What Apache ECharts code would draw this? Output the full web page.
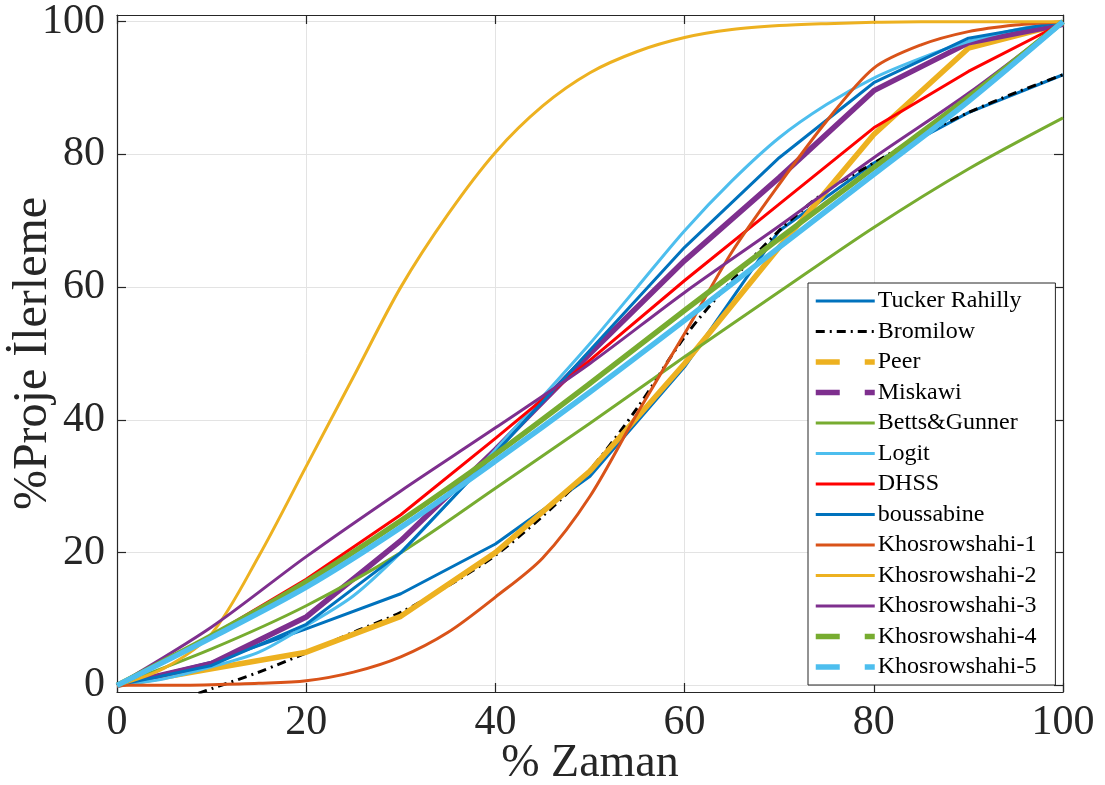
<!DOCTYPE html>
<html><head><meta charset="utf-8">
<script src="https://cdn.jsdelivr.net/npm/echarts@6/dist/echarts.min.js"></script>
<style>html,body{margin:0;padding:0;background:#fff}#c{width:1105px;height:785px}</style>
</head><body><div id="c"></div>
<script>
// ---- data ----
const xTicks = [0, 20, 40, 60, 80, 100];
const yTicks = [0, 20, 40, 60, 80, 100];
const x10 = [0, 10, 20, 30, 40, 50, 60, 70, 80, 90, 100];
const x5 = [0, 5, 10, 15, 20, 25, 30, 35, 40, 45, 50, 55, 60, 65, 70, 75, 80, 85, 90, 95, 100];
const xBromilow = [8.6, 10, 15, 20, 25, 30, 35, 40, 45, 50, 55, 60, 65, 70, 75, 80, 85, 90, 95, 100];

const tuckerRahilly = [0, 3.5, 8.5, 13.8, 21.3, 31.5, 48, 68.5, 78.7, 86.3, 92];
const bromilow = [-1.2, -0.5, 2, 4.9, 8, 11, 15, 19.6, 25.5, 32.5, 41.8, 52.5, 61, 68.5, 74.5, 78.7, 82.8, 86.3, 89.3, 92];
const peer = [0, 2.5, 5, 10.4, 20, 32.3, 48.5, 66, 83, 96, 99.7];
const miskawi = [0, 3.3, 10.3, 21.8, 35.5, 50, 64, 76.5, 89.6, 96.8, 99.6];
const bettsGunner = [0, 5.5, 12, 20, 29.7, 39.5, 49.5, 59.3, 69, 77.8, 85.5];
const logit = [0, 1, 2.8, 5, 9, 13.5, 20, 27.5, 35.5, 43.5, 51.5, 60, 68.5, 76, 82.5, 87.5, 91.5, 94.5, 97, 98.8, 100];
const dhss = [0, 7.5, 16, 25.7, 37.2, 49, 61, 72.5, 84, 92.5, 99.8];
const boussabine = [0, 3, 9.2, 20, 35, 50.5, 66, 79.5, 90.8, 97.5, 100];
const khosrowshahi1 = [0, 0, 0.1, 0.3, 0.7, 2, 4.3, 8, 13.3, 19.2, 28.5, 41, 53, 65.3, 75.5, 85, 93, 96.5, 98.5, 99.5, 100];
const khosrowshahi2 = [0, 2.6, 7.8, 19.5, 33, 46.5, 60, 71, 80.3, 87.3, 92.3, 95.5, 97.6, 98.8, 99.4, 99.7, 99.9, 100, 100, 100, 100];
const khosrowshahi3 = [0, 8.8, 19.4, 29.3, 38.8, 48.5, 59.2, 69.2, 79.5, 89.2, 100];
const khosrowshahi4 = [0, 7.5, 15.6, 24.8, 34.8, 45.5, 56.5, 67.3, 78, 88.6, 100];
const khosrowshahi5 = [0, 7.2, 14.8, 23.8, 33.8, 44.2, 55, 66, 77, 88, 100];

// ---- styling ----
const FONT = "'Liberation Serif','Times New Roman',serif";
const TXT = '#262626';
const C = {blue:'#0072BD', orange:'#D95319', yellow:'#EDB120', purple:'#7E2F8E', green:'#77AC30', cyan:'#4DBEEE', red:'#FF0000', black:'#000000'};
const DASH_LEG = [24, 25];

function pairs(xs, ys){ return xs.map((x,i)=>[x, ys[i]]); }

const defs = [
  {name:'Tucker Rahilly', xs:x10, ys:tuckerRahilly, color:C.blue, w:3},
  {name:'Bromilow', xs:xBromilow, ys:bromilow, color:C.black, w:3, type:[9,5,2,5], smooth:true},
  {name:'Peer', xs:x10, ys:peer, color:C.yellow, w:5.5, leg:DASH_LEG},
  {name:'Miskawi', xs:x10, ys:miskawi, color:C.purple, w:5.5, leg:DASH_LEG},
  {name:'Betts&Gunner', xs:x10, ys:bettsGunner, color:C.green, w:3, smooth:true},
  {name:'Logit', xs:x5, ys:logit, color:C.cyan, w:3, smooth:true},
  {name:'DHSS', xs:x10, ys:dhss, color:C.red, w:3},
  {name:'boussabine', xs:x10, ys:boussabine, color:C.blue, w:3},
  {name:'Khosrowshahi-1', xs:x5, ys:khosrowshahi1, color:C.orange, w:3, smooth:true},
  {name:'Khosrowshahi-2', xs:x5, ys:khosrowshahi2, color:C.yellow, w:3, smooth:true},
  {name:'Khosrowshahi-3', xs:x10, ys:khosrowshahi3, color:C.purple, w:3, smooth:true},
  {name:'Khosrowshahi-4', xs:x10, ys:khosrowshahi4, color:C.green, w:5.5, leg:DASH_LEG, smooth:true},
  {name:'Khosrowshahi-5', xs:x10, ys:khosrowshahi5, color:C.cyan, w:5.5, leg:DASH_LEG, smooth:true}
];

const series = defs.map(d => ({
  name: d.name, type:'line', data: pairs(d.xs, d.ys),
  showSymbol:false, symbol:'none', smooth: d.smooth ? 0.3 : false,
  lineStyle:{color:d.color, width:d.w, type: d.type || 'solid', cap:'butt', join:'round'},
  itemStyle:{color:d.color}, emphasis:{disabled:true}, animation:false
}));

const legendData = defs.map(d => ({
  name: d.name,
  itemStyle: {opacity:0},
  lineStyle: {color:d.color, width: d.w, type: d.leg || d.type || 'solid', opacity:1}
}));

const gridLine = {show:true, lineStyle:{color:'#e3e3e3', width:1}};
const tickIn = {inside:true, length:9, lineStyle:{color:TXT, width:1.2}};

const option = {
  backgroundColor:'#fff',
  animation:false,
  grid:{left:117, right:42, top:15, bottom:93, containLabel:false, outerBoundsMode:'none'},
  legend:{
    show:true, orient:'vertical', left:808, top:283,
    padding:[6,19,6,5], itemGap:6.5, itemWidth:59, itemHeight:14,
    backgroundColor:'#fff', borderColor:TXT, borderWidth:1, borderRadius:0,
    itemStyle:{opacity:0},
    textStyle:{fontFamily:FONT, fontSize:24, color:'#000', padding:[0,0,0,-2]},
    data: legendData, selectedMode:false
  },
  xAxis:[
    {type:'value', min:0, max:100, interval:20, position:'bottom',
     name:'% Zaman', nameLocation:'middle', nameGap:49, nameMoveOverlap:false,
     nameTextStyle:{fontFamily:FONT, fontSize:46, color:TXT},
     axisLine:{show:true, onZero:false, lineStyle:{color:TXT, width:1.2}},
     axisTick:tickIn, splitLine:gridLine,
     axisLabel:{fontFamily:FONT, fontSize:42, color:TXT, margin:10, customValues:xTicks}},
    {type:'value', min:0, max:100, interval:20, position:'top',
     axisLine:{show:true, onZero:false, lineStyle:{color:TXT, width:1.2}},
     axisTick:tickIn, splitLine:{show:false}, axisLabel:{show:false}}
  ],
  yAxis:[
    {type:'value', min:-1, max:101, position:'left',
     name:'%Proje İlerleme', nameLocation:'middle', nameGap:60, nameMoveOverlap:false,
     nameTextStyle:{fontFamily:FONT, fontSize:48, color:TXT},
     axisLine:{show:true, onZero:false, lineStyle:{color:TXT, width:1.2}},
     axisTick:Object.assign({customValues:yTicks}, tickIn), splitLine:gridLine,
     axisLabel:{fontFamily:FONT, fontSize:42, color:TXT, margin:12, customValues:yTicks}},
    {type:'value', min:-1, max:101, position:'right',
     axisLine:{show:true, onZero:false, lineStyle:{color:TXT, width:1.2}},
     axisTick:Object.assign({customValues:yTicks}, tickIn), splitLine:{show:false}, axisLabel:{show:false}}
  ],
  series: series
};

const chart = echarts.init(document.getElementById('c'), null, {renderer:'canvas'});
chart.setOption(option);
</script>
</body></html>
